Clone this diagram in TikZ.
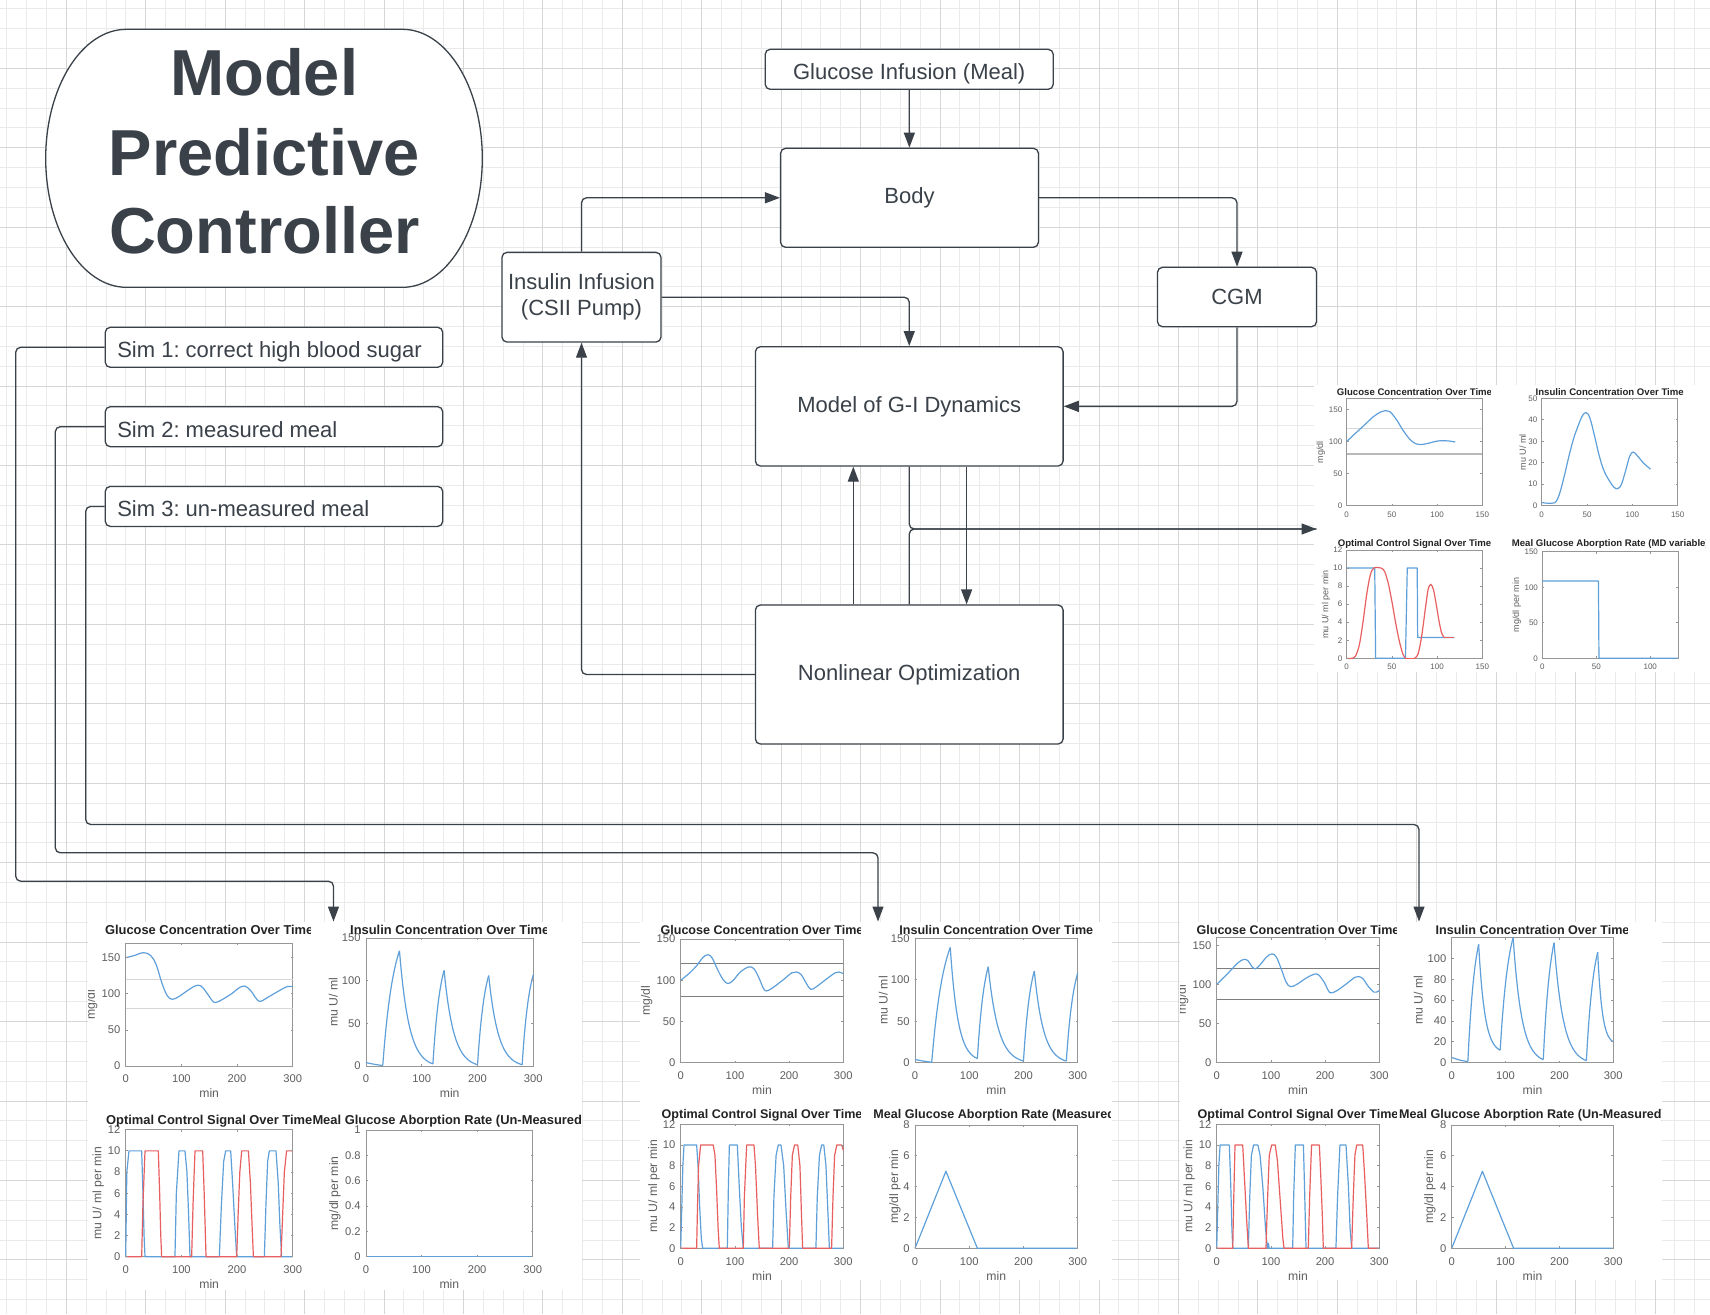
\documentclass[tikz,border=0pt]{standalone}
\usepackage{fontspec}
\setmainfont{Liberation Sans}
\usetikzlibrary{arrows.meta}
\frenchspacing
\definecolor{ink}{RGB}{58,65,73}
\definecolor{gmincol}{RGB}{234,234,234}
\definecolor{gmajcol}{RGB}{214,214,214}
\definecolor{axcol}{RGB}{150,150,150}
\definecolor{tickc}{RGB}{95,95,95}
\definecolor{titc}{RGB}{35,35,35}
\definecolor{mblue}{RGB}{95,160,218}
\definecolor{mred}{RGB}{232,95,95}
\definecolor{refc}{RGB}{215,215,215}
\definecolor{refd}{RGB}{125,125,125}
\newcommand\PB[6]{%
  \pgfmathsetmacro\pX{#5/#3}%
  \pgfmathsetmacro\pY{#6/#4}%
  \def\Xm{#5}\def\Ym{#6}%
  \begin{scope}[shift={(#1,#2)}, xscale=#3/#5, yscale=-#4/#6]}
\newcommand\PE{\end{scope}}
\newcommand\PFrame{\draw[axc] (0,0) rectangle (\Xm,\Ym);}
\newcommand\PXT[3]{\foreach \tk in {#1}{\draw[axc] (\tk,0) -- (\tk,2*\pY) (\tk,\Ym) -- (\tk,\Ym-2*\pY); \node[#3] at (\tk,-#2*\pY) {\tk};}}
\newcommand\PYT[3]{\foreach \vk in {#1}{\draw[axc] (0,\vk) -- (2*\pX,\vk) (\Xm,\vk) -- (\Xm-2*\pX,\vk); \node[#3, anchor=east] at (-#2*\pX,\vk) {\vk};}}
\newcommand\PT[6]{\begin{scope}\clip (#1,#3-15) rectangle (#2,#3+15);\node[#5] at (#4,#3) {#6};\end{scope}}
\newcommand\Rise[4]{\draw[bl] plot[domain=#1:#2, samples=12] (\x,{#3+(#4-#3)*(1-exp(-1.5*(\x-#1)/(#2-#1)))/0.77687});}
\newcommand\Decay[4]{\draw[bl] plot[domain=#1:#2, samples=30] (\x,{#4+(#3-#4)*(exp(-3.5*(\x-#1)/(#2-#1))-0.030197)/0.969803});}
\newcommand\lowt[1]{\raisebox{0pt}[10.4pt][0pt]{#1}}
\newcommand\simtext[1]{\lowt{\makebox[156.7pt][l]{#1}}}
\begin{document}
\begin{tikzpicture}[x=0.5pt, y=-0.5pt,
  gmin/.style={draw=gmincol, line width=0.5pt},
  gmaj/.style={draw=gmajcol, line width=0.5pt},
  boxn/.style={draw=ink, fill=white, line width=0.65pt, rounded corners=2.5pt, text=ink, font=\fontsize{11}{13}\selectfont, inner sep=0pt, align=center},
  simbox/.style={boxn, minimum height=20pt, minimum width=168.7pt},
  conn/.style={draw=ink, line width=0.65pt, rounded corners=2.5pt, -{Triangle[length=7.5pt,width=5.5pt]}},
  connl/.style={draw=ink, line width=0.65pt, rounded corners=2.5pt},
  mtitle/.style={text=ink, font=\fontsize{32.5}{36}\selectfont\bfseries, inner sep=0pt, anchor=base},
  axc/.style={draw=axcol, line width=0.4pt},
  bl/.style={draw=mblue, line width=0.6pt, line join=round},
  rd/.style={draw=mred, line width=0.6pt, line join=round},
  refl/.style={draw=refc, line width=0.7pt},
  refk/.style={draw=refd, line width=0.5pt},
  tlA/.style={name=tk, text=tickc, font=\fontsize{5.6}{6}\selectfont, inner sep=0pt},
  tlB/.style={name=tk, text=tickc, font=\fontsize{4}{4.5}\selectfont, inner sep=0pt},
  ptA/.style={name=ptl, text=titc, font=\fontsize{6.45}{7}\selectfont\bfseries, inner sep=0pt},
  ptB/.style={name=ptl, text=titc, font=\fontsize{6.28}{7}\selectfont\bfseries, inner sep=0pt},
  ptC/.style={name=ptl, text=titc, font=\fontsize{4.8}{5.2}\selectfont\bfseries, inner sep=0pt},
  alA/.style={name=al, text=tickc, font=\fontsize{6.1}{7}\selectfont, inner sep=0pt},
  alC/.style={name=al, text=tickc, font=\fontsize{4.5}{5}\selectfont, inner sep=0pt}]
\useasboundingbox (0,0) rectangle (1710,1314);
\fill[white] (0,0) rectangle (1710,1314);
% grid
\foreach \k in {0,...,86}{\draw[gmin] ({6.7+19.86*\k},0) -- ({6.7+19.86*\k},1314);}
\foreach \k in {0,...,66}{\draw[gmin] (0,{8.7+19.86*\k}) -- (1710,{8.7+19.86*\k});}
\foreach \k in {0,...,20}{\draw[gmaj] ({66.28+79.44*\k},0) -- ({66.28+79.44*\k},1314);}
\foreach \k in {0,...,15}{\draw[gmaj] (0,{68.28+79.44*\k}) -- (1710,{68.28+79.44*\k});}

% ===== Group 1 =====
\begin{scope}
\clip (88,922) rectangle (582,1290);
\fill[white] (88,922) rectangle (582,1290);
\PB{125.7}{1066}{167}{122.7}{300}{170}
 \PFrame
 \draw[refl] (0,120) -- (300,120) (0,80) -- (300,80);
 \draw[bl] plot[smooth, tension=0.6] coordinates {(0,150) (15,153) (32,157) (45,153) (55,140) (65,115) (75,97) (84,92.5) (95,96) (110,104) (125,111) (135,111) (145,102) (155,91) (161,88) (172,91.5) (190,100) (205,109) (215,110.5) (225,104) (235,93) (242,89.5) (255,95) (275,104) (290,110) (300,110)};
 \PXT{0,100,200,300}{13}{tlA}
 \PYT{0,50,100,150}{5}{tlA}
\PE
\PT{88}{310.5}{930}{209.2}{ptA}{Glucose Concentration Over Time}
\node[alA, rotate=90] at (91.7,1004.7) {mg/dl};
\node[alA] at (209.2,1093.5) {min};
\PB{366}{1066}{167.3}{128}{300}{150}
 \PFrame
 \draw[bl] (0,4) -- (15,2) -- (30,0.5);
 \Rise{30}{60}{0.5}{135}
 \Decay{60}{120}{135}{2.5}
 \Rise{120}{140}{2.5}{112}
 \Decay{140}{200}{112}{1.5}
 \Rise{200}{220}{1.5}{106}
 \Decay{220}{280}{106}{1.5}
 \Rise{280}{300}{1.5}{107}
 \PXT{0,100,200,300}{13}{tlA}
 \PYT{0,50,100,150}{5}{tlA}
\PE
\PT{312}{546}{930}{449.7}{ptA}{Insulin Concentration Over Time}
\node[alA, rotate=90] at (333.3,1002) {mu U/ ml};
\node[alA] at (449.7,1093.5) {min};
\PB{125.7}{1256.7}{167}{127}{300}{12}
 \PFrame
 \draw[bl] (0,0) -- (1,4) -- (2,8) -- (5.9,10) -- (28.7,10) -- (31,6) -- (33,2) -- (34.7,0) -- (88.5,0) -- (91,6) -- (95.7,10) -- (106.5,10) -- (110,8) -- (113,4) -- (115.5,0) -- (168.2,0) -- (172,5) -- (176,9) -- (179.6,10) -- (188.6,10) -- (192,7) -- (196,3) -- (199.4,0) -- (249.1,0) -- (252,5) -- (255,9) -- (258,10) -- (270,10) -- (274,7) -- (277,3) -- (280.2,0) -- (300,0);
 \draw[rd] (0,0) -- (28.7,0) -- (31,5) -- (34.7,10) -- (58.6,10) -- (61,6) -- (63,2) -- (64.6,0) -- (118.5,0) -- (121,5) -- (124.5,10) -- (138.3,10) -- (141,6) -- (144.3,0) -- (199.4,0) -- (202,4) -- (205,8) -- (208.4,10) -- (220.4,10) -- (224,7) -- (227,3) -- (229.4,0) -- (279,0) -- (282,4) -- (285,8) -- (289,10) -- (300,10);
 \PXT{0,100,200,300}{13}{tlA}
 \PYT{0,2,4,6,8,10,12}{5}{tlA}
\PE
\PT{88}{311.2}{1120.7}{209.2}{ptA}{Optimal Control Signal Over Time}
\node[alA, rotate=90] at (98.3,1193.2) {mu U/ ml per min};
\node[alA] at (209.2,1284.2) {min};
\PB{366}{1256.7}{166.7}{126.7}{300}{1}
 \PFrame
 \draw[bl] (0,0) -- (300,0);
 \PXT{0,100,200,300}{13}{tlA}
 \PYT{0,0.2,0.4,0.6,0.8,1}{5}{tlA}
\PE
\PT{312.5}{580}{1120.7}{449.4}{ptA}{Meal Glucose Aborption Rate (Un-Measured)}
\node[alA, rotate=90] at (335,1193.3) {mg/dl per min};
\node[alA] at (449.4,1284.2) {min};
\end{scope}

% ===== Group 2 =====
\begin{scope}
\clip (640,922) rectangle (1112,1280);
\fill[white] (640,922) rectangle (1112,1280);
\PB{680.7}{1062.7}{162.6}{123.7}{300}{150}
 \PFrame
 \draw[refk] (0,120) -- (300,120) (0,80) -- (300,80);
 \draw[bl] plot[smooth, tension=0.6] coordinates {(0,100) (15,108) (30,118) (40,127) (50,131) (58,127) (68,113) (78,101) (87,96) (97,100) (110,110) (125,116) (135,114) (145,102) (152,91) (158,87) (170,91) (190,101) (205,109) (213,110) (222,107) (232,96) (240,89) (250,92) (270,102) (285,109) (292,110) (300,108)};
 \PXT{0,100,200,300}{13}{tlA}
 \PYT{0,50,100,150}{5}{tlA}
\PE
\PT{640}{860.7}{930}{762}{ptB}{Glucose Concentration Over Time}
\node[alA, rotate=90] at (646.7,1000.9) {mg/dl};
\node[alA] at (762,1090.2) {min};
\PB{915}{1062.7}{162.7}{124.4}{300}{150}
 \PFrame
 \draw[bl] (0,4) -- (15,2) -- (30.8,0.5);
 \Rise{30.8}{65}{0.5}{139}
 \Decay{65}{115}{139}{5}
 \Rise{115}{135}{5}{115.7}
 \Decay{135}{200}{115.7}{2}
 \Rise{200}{220}{2}{110.6}
 \Decay{220}{279}{110.6}{2}
 \Rise{279}{300}{2}{108}
 \PXT{0,100,200,300}{13}{tlA}
 \PYT{0,50,100,150}{5}{tlA}
\PE
\PT{861}{1092}{930}{996.3}{ptB}{Insulin Concentration Over Time}
\node[alA, rotate=90] at (883.3,1000.5) {mu U/ ml};
\node[alA] at (996.3,1090.2) {min};
\PB{680.7}{1248.3}{162.6}{124}{300}{12}
 \PFrame
 \draw[bl] (0,0) -- (2,4) -- (4,8) -- (6.1,10) -- (29.4,10) -- (32,8) -- (35,4) -- (38,1) -- (40.5,0) -- (86,0) -- (88,6) -- (89.8,10) -- (104.5,10) -- (108,6) -- (112,2) -- (115.5,0) -- (169.6,0) -- (172,5) -- (176,9) -- (180,10) -- (185,10) -- (190,8) -- (194,4) -- (198.6,0) -- (249.5,0) -- (252,5) -- (256,9) -- (260,10) -- (264,10) -- (268,8) -- (272,3) -- (274.3,0) -- (300,0);
 \draw[rd] (0,0) -- (29.4,0) -- (31,4) -- (33,8) -- (36.8,10) -- (60,10) -- (63.2,9) -- (66,6) -- (69,2) -- (71.2,0) -- (115.5,0) -- (117.5,5) -- (121.7,10) -- (135.2,10) -- (138,8) -- (142,3) -- (145,0) -- (200.4,0) -- (203,5) -- (206,9) -- (210,10) -- (216,10) -- (220,8) -- (223,3) -- (225,0) -- (278.4,0) -- (281,5) -- (284,9) -- (288,10) -- (293,10) -- (297,10) -- (300,9.5);
 \PXT{0,100,200,300}{13}{tlA}
 \PYT{0,2,4,6,8,10,12}{5}{tlA}
\PE
\PT{640}{860.5}{1115.7}{762}{ptB}{Optimal Control Signal Over Time}
\node[alA, rotate=90] at (654,1186.3) {mu U/ ml per min};
\node[alA] at (762,1275.8) {min};
\PB{915}{1248.3}{162.7}{123.3}{300}{8}
 \PFrame
 \draw[bl] (0,0) -- (57,5) -- (115,0) -- (300,0);
 \PXT{0,100,200,300}{13}{tlA}
 \PYT{0,2,4,6,8}{5}{tlA}
\PE
\PT{861}{1110}{1115.7}{996.3}{ptB}{Meal Glucose Aborption Rate (Measured)}
\node[alA, rotate=90] at (895,1186.6) {mg/dl per min};
\node[alA] at (996.3,1275.8) {min};
\end{scope}

% ===== Group 3 =====
\begin{scope}
\clip (1180,922) rectangle (1662,1280);
\fill[white] (1180,922) rectangle (1662,1280);
\PB{1216.7}{1062.3}{162.6}{124.8}{300}{160}
 \PFrame
 \draw[refk] (0,120) -- (300,120) (0,80) -- (300,80);
 \draw[bl] plot[smooth, tension=0.6] coordinates {(0,100) (15,110) (30,121) (40,128) (50,132) (58,130) (66,122) (72,120) (80,125) (92,135) (102,139) (110,135) (120,118) (128,103) (136,97) (148,100) (165,108) (180,113) (188,112) (198,103) (206,92) (211,89) (222,92) (240,101) (255,109) (262,110) (270,107) (280,97) (290,90) (295,90) (300,92)};
 \PXT{0,100,200,300}{13}{tlA}
 \PYT{0,50,100,150}{5}{tlA}
\PE
\PT{1180}{1396.5}{930}{1298}{ptB}{Glucose Concentration Over Time}
\node[alA, rotate=90] at (1182.7,1000) {mg/dl};
\node[alA] at (1298,1089.8) {min};
\PB{1451.7}{1062.7}{161.6}{125.2}{300}{120}
 \PFrame
 \draw[bl] (0,5) -- (15,2.5) -- (30,1);
 \Rise{30}{50}{1}{113.5}
 \Decay{50}{90}{113.5}{12}
 \Rise{90}{114}{12}{120}
 \Decay{114}{170}{120}{3}
 \Rise{170}{190}{3}{115}
 \Decay{190}{250}{115}{2}
 \Rise{250}{271}{2}{106}
 \Decay{271}{300}{106}{20}
 \PXT{0,100,200,300}{13}{tlA}
 \PYT{0,20,40,60,80,100}{5}{tlA}
\PE
\PT{1400}{1627}{930}{1532.5}{ptB}{Insulin Concentration Over Time}
\node[alA, rotate=90] at (1418.3,1000) {mu U/ ml};
\node[alA] at (1532.5,1090.2) {min};
\PB{1216.7}{1248.3}{162.6}{124}{300}{12}
 \PFrame
 \draw[bl] (0,0) -- (2,4) -- (4,8) -- (6.2,10) -- (23.3,10) -- (26,6) -- (28,2) -- (29.6,0) -- (58.4,0) -- (61,5) -- (64,9) -- (68,10) -- (76,10) -- (80,9) -- (85,6) -- (90,2) -- (93.4,0) -- (95,0.5) -- (97,0) -- (140.2,0) -- (142,5) -- (145.1,10) -- (160,10) -- (162,6) -- (164.8,0) -- (220,0) -- (223,5) -- (227.4,10) -- (238.6,10) -- (243,6) -- (246,2) -- (249,0) -- (300,0);
 \draw[rd] (0,0) -- (29.6,0) -- (31.5,5) -- (33.8,10) -- (48,10) -- (51,7) -- (55,3) -- (58.4,0) -- (90.9,0) -- (94,5) -- (97,9) -- (101.4,10) -- (108,10) -- (112,8.5) -- (118,4) -- (122,1) -- (124.2,0) -- (169,0) -- (171.5,5) -- (175,10) -- (189.4,10) -- (192,7) -- (195,3) -- (196.7,0) -- (249,0) -- (252,5) -- (255,9) -- (258.3,10) -- (269.4,10) -- (273,7) -- (277,3) -- (279.8,0) -- (300,0);
 \PXT{0,100,200,300}{13}{tlA}
 \PYT{0,2,4,6,8,10,12}{5}{tlA}
\PE
\PT{1180}{1396.7}{1115.7}{1298}{ptB}{Optimal Control Signal Over Time}
\node[alA, rotate=90] at (1189.3,1186.3) {mu U/ ml per min};
\node[alA] at (1298,1275.8) {min};
\PB{1451.7}{1248.3}{161.6}{123.3}{300}{8}
 \PFrame
 \draw[bl] (0,0) -- (57,5) -- (114.9,0) -- (300,0);
 \PXT{0,100,200,300}{13}{tlA}
 \PYT{0,2,4,6,8}{5}{tlA}
\PE
\PT{1397}{1661}{1115.7}{1532.5}{ptB}{Meal Glucose Aborption Rate (Un-Measured)}
\node[alA, rotate=90] at (1430,1186.6) {mg/dl per min};
\node[alA] at (1532.5,1275.8) {min};
\end{scope}

% ===== Top-right group =====
\begin{scope}
\clip (1314,385) rectangle (1710,672);
\fill[white] (1314,385) rectangle (1710,672);
\PB{1346.7}{505.7}{135.6}{107.4}{150}{167}
 \PFrame
 \draw[refl] (0,120) -- (150,120);
 \draw[draw=gray!55, line width=0.9pt] (0,80) -- (150,80);
 \draw[bl] plot[smooth, tension=0.6] coordinates {(0,100) (10,113) (20,126) (30,139) (38,146) (43,148) (48,146) (55,134) (62,118) (70,103) (77,96) (82,95) (90,97) (100,100.5) (107,101) (114,100.5) (120,99)};
 \PXT{0,50,100,150}{8.6}{tlB}
 \PYT{0,50,100,150}{4}{tlB}
\PE
\PT{1314}{1490.7}{391.7}{1414.5}{ptC}{Glucose Concentration Over Time}
\node[alC, rotate=90] at (1320.7,452) {mg/dl};
\PB{1541.7}{505.7}{136}{107.4}{150}{50}
 \PFrame
 \draw[bl] plot[smooth, tension=0.6] coordinates {(0,1.5) (5,1.2) (12,1.2) (16,2) (20,6) (25,14) (30,23) (35,31) (40,37) (45,42) (49,43.3) (53,41) (58,33) (63,24) (68,17) (74,12) (80,8.5) (84,8) (88,10) (93,17) (97,23) (101,25) (106,23) (112,20) (120,17)};
 \PXT{0,50,100,150}{8.6}{tlB}
 \PYT{0,10,20,30,40,50}{4}{tlB}
\PE
\PT{1500}{1683.3}{391.7}{1609.7}{ptC}{Insulin Concentration Over Time}
\node[alC, rotate=90] at (1522.7,452) {mu U/ ml};
\PB{1346.7}{658.3}{135.6}{108.3}{150}{12}
 \PFrame
 \draw[bl] (0,10) -- (31,10) -- (32,0) -- (65,0) -- (67,10) -- (78,10) -- (78.5,2.3) -- (119,2.3);
 \draw[rd] plot[smooth, tension=0.5] coordinates {(0,0) (6,0) (10,0.3) (14,1.5) (18,4) (22,7) (26,9.2) (30,10) (38,10) (42,9.6) (46,8.3) (50,6.3) (54,4) (58,2) (62,0.5) (65,0)};
 \draw[rd] (65,0) -- (75,0);
 \draw[rd] plot[smooth, tension=0.5] coordinates {(75,0) (79,0.5) (83,2.5) (87,5.5) (90,7.6) (93,8.2) (96,7.6) (99,6) (102,4.2) (105,2.8) (108,2.3)};
 \draw[rd] (108,2.3) -- (119,2.3);
 \PXT{0,50,100,150}{8.6}{tlB}
 \PYT{0,2,4,6,8,10,12}{4}{tlB}
\PE
\PT{1314}{1490.7}{544}{1414.5}{ptC}{Optimal Control Signal Over Time}
\node[alC, rotate=90] at (1326,604.3) {mu U/ ml per min};
\PB{1542.3}{658.3}{136}{106.6}{126}{150}
 \PFrame
 \draw[bl] (0,108.7) -- (52,108.7) -- (52.5,0) -- (126,0);
 \PXT{0,50,100}{8.6}{tlB}
 \PYT{0,50,100,150}{4}{tlB}
\PE
\PT{1500}{1705}{544}{1610.3}{ptC}{Meal Glucose Aborption Rate (MD variable)}
\node[alC, rotate=90] at (1516.7,605) {mg/dl per min};
\end{scope}

% ===== MPC title =====
\draw[draw=ink, line width=0.65pt, fill=white] (126.5,29.3) -- (402.5,29.3) arc[start angle=-90, end angle=90, x radius=79.8, y radius=129] -- (126.5,287.3) arc[start angle=90, end angle=270, x radius=80.8, y radius=129] -- cycle;
\node[mtitle] (mt1) at (264.3,95) {Model};
\node[mtitle] (mt2) at (264.3,175) {Predictive};
\node[mtitle] (mt3) at (264.3,253.3) {Controller};

% ===== flow nodes =====
\node[boxn, minimum width=144pt, minimum height=20pt] (gim) at (909.2,69.3) {\lowt{Glucose Infusion (Meal)}};
\node[boxn, minimum width=128.9pt, minimum height=49.5pt] (body) at (909.5,197.8) {Body};
\node[boxn, minimum width=79.5pt, minimum height=44.85pt] (ins) at (581.5,297.2) {Insulin Infusion\\(CSII Pump)};
\node[boxn, minimum width=79.5pt, minimum height=29.7pt] (cgm) at (1237,297) {CGM};
\node[boxn, minimum width=153.85pt, minimum height=59.65pt] (model) at (909.25,406.35) {Model of G-I Dynamics};
\node[boxn, minimum width=153.85pt, minimum height=69.5pt] (nlo) at (909.25,674.5) {Nonlinear Optimization};
\node[simbox] (sim1) at (274,347.3) {\simtext{Sim 1: correct high blood sugar}};
\node[simbox] (sim2) at (274,426.7) {\simtext{Sim 2: measured meal}};
\node[simbox] (sim3) at (274,506.4) {\simtext{Sim 3: un-measured meal}};

\coordinate (trplot) at (1316.5,529);
\coordinate (upx) at (853.3,0);
\coordinate (dnx) at (966.6,0);
\coordinate (g1top) at (333.5,921.5);
\coordinate (g2top) at (878,921.5);
\coordinate (g3top) at (1419,921.5);
\coordinate (s1c) at (15.7,881.2);
\coordinate (s2c) at (55.3,852.8);
\coordinate (s3c) at (85.7,824.5);

% ===== connectors =====
\draw[conn] (gim) -- (body);
\draw[conn] (ins.north) |- (body.west);
\draw[conn] (body.east) -| (cgm.north);
\draw[conn] (ins.east) -| (model.north);
\draw[conn] (cgm.south) |- (model.east);
\draw[conn] (nlo.west) -| (ins.south);
\draw[conn] (nlo.north -| upx) -- (model.south -| upx);
\draw[conn] (model.south -| dnx) -- (nlo.north -| dnx);
\draw[conn] (model.south) |- (trplot);
\draw[connl] (nlo.north) |- (trplot);
\draw[conn] (sim1.west) -| (s1c) -| (g1top);
\draw[conn] (sim2.west) -| (s2c) -| (g2top);
\draw[conn] (sim3.west) -| (s3c) -| (g3top);
\end{tikzpicture}
\end{document}
